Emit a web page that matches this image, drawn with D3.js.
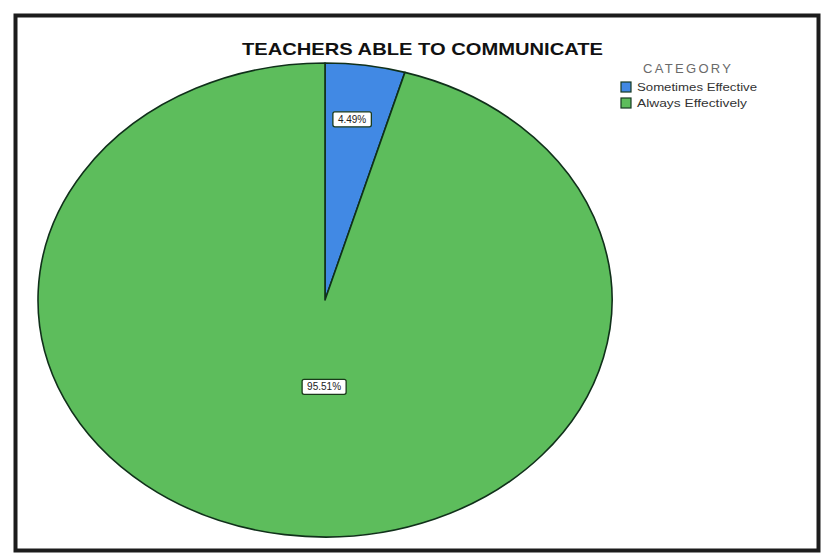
<!DOCTYPE html>
<html>
<head>
<meta charset="utf-8">
<script src="https://cdn.jsdelivr.net/npm/d3@7"></script>
<style>
  html, body { margin: 0; padding: 0; background: #fff; }
  svg { display: block; }
</style>
</head>
<body>
<svg id="chart" width="823" height="555"></svg>
<script>
// Survey result: how effectively teachers communicate
const categories = ["Sometimes Effective", "Always Effectively"];
const percents = [4.49, 95.51];
const labels = ["4.49%", "95.51%"];
const colors = ["#4189e4", "#5dbd5c"];
const chartTitle = "TEACHERS ABLE TO COMMUNICATE";
const legendTitle = "CATEGORY";

const svg = d3.select("#chart");
const FONT = "Liberation Sans, Arial, sans-serif";

// outer frame
svg.append("rect")
  .attr("x", 15.5).attr("y", 15.5)
  .attr("width", 803).attr("height", 535)
  .attr("fill", "#fff")
  .attr("stroke", "#1c1c1c")
  .attr("stroke-width", 4);

// title
svg.append("text")
  .attr("x", 242).attr("y", 55)
  .attr("font-family", FONT)
  .attr("font-weight", "bold")
  .attr("font-size", 17)
  .attr("textLength", 361)
  .attr("lengthAdjust", "spacingAndGlyphs")
  .attr("fill", "#111")
  .text(chartTitle);

// pie drawn as an ellipse: circle of radius rx squashed vertically
const cx = 325, cy = 300, rx = 287, ry = 237;
const pie = d3.pie().sort(null).value(d => d)(percents);
const arc = d3.arc().innerRadius(0).outerRadius(rx);

const g = svg.append("g")
  .attr("transform", `translate(${cx},${cy}) scale(1,${ry / rx})`);

g.selectAll("path")
  .data(pie)
  .join("path")
  .attr("d", arc)
  .attr("fill", (d, i) => colors[i])
  .attr("stroke", "#10301a")
  .attr("stroke-width", 1.6)
  .attr("vector-effect", "non-scaling-stroke")
  .attr("stroke-linejoin", "round");

// value labels in white boxes
const labelFrac = [0.77, 0.37];
const labelNudge = [-4, 14];
const labelG = svg.append("g");
pie.forEach((d, i) => {
  const la = d3.arc().innerRadius(0).outerRadius(rx * labelFrac[i] * 2);
  const [px, py] = la.centroid(d);
  const x = cx + px + labelNudge[i];
  const y = cy + py * ry / rx;
  const t = labelG.append("text")
    .attr("x", x).attr("y", y + 3.5)
    .attr("text-anchor", "middle")
    .attr("font-family", FONT)
    .attr("font-size", 10)
    .attr("fill", "#222")
    .text(labels[i]);
  const bb = t.node().getBBox();
  labelG.insert("rect", "text")
    .attr("x", bb.x - 5).attr("y", bb.y - 2)
    .attr("width", bb.width + 10).attr("height", bb.height + 4)
    .attr("rx", 2)
    .attr("fill", "#fff")
    .attr("stroke", "#1a3a1a")
    .attr("stroke-width", 1.3);
});

// legend
const leg = svg.append("g");
leg.append("text")
  .attr("x", 643).attr("y", 73)
  .attr("font-family", FONT)
  .attr("font-size", 13)
  .attr("textLength", 88)
  .attr("lengthAdjust", "spacing")
  .attr("fill", "#6a6a6a")
  .text(legendTitle);

const legendWidths = [120, 110];
const items = leg.selectAll("g.item")
  .data(categories)
  .join("g")
  .attr("class", "item")
  .attr("transform", (d, i) => `translate(621,${82 + i * 16})`);
items.append("rect")
  .attr("width", 10).attr("height", 10)
  .attr("fill", (d, i) => colors[i])
  .attr("stroke", "#173a22")
  .attr("stroke-width", 1.2);
items.append("text")
  .attr("x", 16).attr("y", 8.5)
  .attr("font-family", FONT)
  .attr("font-size", 10)
  .attr("textLength", (d, i) => legendWidths[i])
  .attr("lengthAdjust", "spacingAndGlyphs")
  .attr("fill", "#333")
  .text(d => d);
</script>
</body>
</html>
